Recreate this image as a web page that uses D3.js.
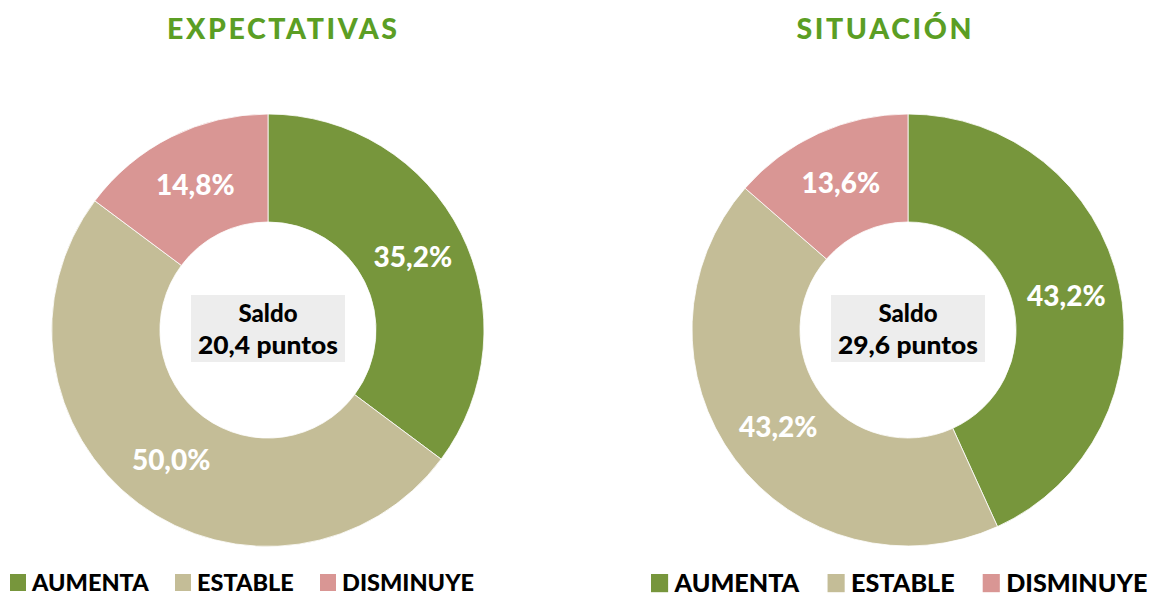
<!DOCTYPE html>
<html>
<head>
<meta charset="utf-8">
<script src="https://cdn.jsdelivr.net/npm/d3@7"></script>
<style>
  html, body { margin: 0; padding: 0; background: #fff; }
  svg { display: block; font-family: Lato, "Open Sans", sans-serif; }
</style>
</head>
<body>
<div id="chart"></div>
<script>
const categories = ["AUMENTA", "ESTABLE", "DISMINUYE"];
const colors = ["#77963C", "#C4BD97", "#D99694"];
const titles = ["EXPECTATIVAS", "SITUACIÓN"];
const expectativas = [35.2, 50.0, 14.8];
const situacion = [43.2, 43.2, 13.6];
const saldos = [20.4, 29.6];

const width = 1162, height = 596;
const outerR = 216, innerR = 108;

const fmt = v => d3.format(".1f")(v).replace(".", ",");

const svg = d3.select("#chart")
  .append("svg")
  .attr("width", width)
  .attr("height", height);

const color = d3.scaleOrdinal().domain(categories).range(colors);

const pie = d3.pie().sort(null).value(d => d.value);
const arc = d3.arc().innerRadius(innerR).outerRadius(outerR);
const labelArc = d3.arc().innerRadius(162).outerRadius(162);

// one block per chart
const panels = [
  { title: titles[0], values: expectativas, saldo: saldos[0], cx: 268, titleX: 282, titleW: 230, legendX: 10, legendScale: 1 },
  { title: titles[1], values: situacion, saldo: saldos[1], cx: 908, titleX: 884, titleW: 175, legendX: 651, legendScale: 1.07 }
];

panels.forEach(p => {
  const data = categories.map((c, i) => ({ name: c, value: p.values[i] }));

  svg.append("text")
    .attr("x", p.titleX)
    .attr("y", 39)
    .attr("text-anchor", "middle")
    .attr("fill", "#5B9E24")
    .style("font-size", "28.5px")
    .style("font-weight", 900)
    .attr("textLength", p.titleW)
    .attr("lengthAdjust", "spacing")
    .text(p.title);

  const g = svg.append("g")
    .attr("transform", `translate(${p.cx},330)`);

  const arcs = pie(data);

  g.selectAll("path")
    .data(arcs)
    .enter()
    .append("path")
    .attr("d", arc)
    .attr("fill", d => color(d.data.name))
    .attr("stroke", "#fff")
    .attr("stroke-width", 0.8);

  g.selectAll("text.pct")
    .data(arcs)
    .enter()
    .append("text")
    .attr("class", "pct")
    .attr("transform", d => `translate(${labelArc.centroid(d)})`)
    .attr("dy", "0.36em")
    .attr("text-anchor", "middle")
    .attr("fill", "#fff")
    .style("font-size", "28px")
    .style("font-weight", 900)
    .text(d => fmt(d.data.value) + "%");

  // saldo box
  g.append("rect")
    .attr("x", -77)
    .attr("y", -35)
    .attr("width", 154)
    .attr("height", 67)
    .attr("fill", "#EDEDED");

  g.append("text")
    .attr("y", -8)
    .attr("text-anchor", "middle")
    .attr("fill", "#000")
    .style("font-size", "24px")
    .style("font-weight", 900)
    .text("Saldo");

  g.append("text")
    .attr("y", 24)
    .attr("text-anchor", "middle")
    .attr("fill", "#000")
    .style("font-size", "24px")
    .style("font-weight", 900)
    .attr("textLength", 140)
    .attr("lengthAdjust", "spacingAndGlyphs")
    .text(fmt(p.saldo) + " puntos");

  // legend (kept just inside the bottom edge)
  const offsets = [0, 165, 310];
  const lg = svg.append("g")
    .attr("transform", `translate(${p.legendX},574) scale(${p.legendScale})`);

  const item = lg.selectAll("g")
    .data(categories)
    .enter()
    .append("g")
    .attr("transform", (d, i) => `translate(${offsets[i]},0)`);

  item.append("rect")
    .attr("width", 16)
    .attr("height", 17)
    .attr("fill", d => color(d));

  item.append("text")
    .attr("x", 22)
    .attr("y", 16.5)
    .attr("fill", "#000")
    .style("font-size", "23.5px")
    .style("font-weight", 900)
    .text(d => d);
});
</script>
</body>
</html>
